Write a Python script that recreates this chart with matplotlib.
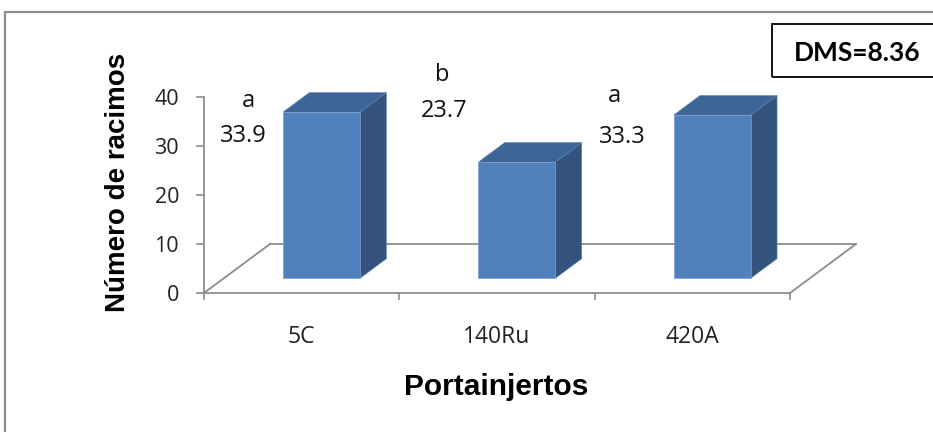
import matplotlib
matplotlib.use("Agg")
import matplotlib.pyplot as plt
from matplotlib.patches import Polygon, Rectangle

# datos
portainjertos = ["5C", "140Ru", "420A"]
racimos = [33.9, 23.7, 33.3]
letras = ["a", "b", "a"]
dms = 8.36

# posiciones de las etiquetas (desplazamiento x por categoria, altura y)
lab_dx_letra = [-0.27, -0.28, -0.40]
lab_y_letra = [39.2, 44.5, 40.2]
lab_dx_valor = [-0.30, -0.27, -0.36]
lab_y_valor = [32.0, 37.1, 31.8]

W, H = 933, 432
fig = plt.figure(figsize=(W / 100, H / 100), dpi=100)
fig.patch.set_facecolor("white")

# marco del grafico
fig.add_artist(Rectangle((5 / W, -0.1), 1.2, (H - 12) / H + 0.1, transform=fig.transFigure,
                         fill=False, edgecolor="#8c8c8c", lw=1.6))

ax = fig.add_axes([204 / W, (H - 293) / H, 586 / W, 196 / H])
ax.set_xlim(-0.5, 2.5)
ax.set_ylim(0, 40)
ax.patch.set_alpha(0)

gris = "#8c8c8c"
for s in ["top", "right"]:
    ax.spines[s].set_visible(False)
ax.spines["left"].set_color(gris)
ax.spines["bottom"].set_color(gris)
ax.spines["left"].set_linewidth(1.3)
ax.spines["bottom"].set_linewidth(1.3)

# profundidad del piso en unidades de datos
prof_x, prof_y = 0.338, 10.0
f0, f1 = 0.3, 0.7
ancho = 0.394

# piso
piso = dict(color=gris, lw=1.3, clip_on=False, zorder=1)
ax.plot([-0.5, -0.5 + prof_x], [0, prof_y], **piso)
ax.plot([-0.5 + prof_x, 2.5 + prof_x], [prof_y, prof_y], **piso)
ax.plot([2.5, 2.5 + prof_x], [0, prof_y], **piso)

c_frente = "#4f81bd"
c_lado = "#34547f"
c_tope = "#3d6595"
bx, by = (f1 - f0) * prof_x, (f1 - f0) * prof_y
for i, v in enumerate(racimos):
    x0 = i - ancho / 2 + f0 * prof_x
    y0 = f0 * prof_y
    lado = [(x0 + ancho, y0), (x0 + ancho + bx, y0 + by),
            (x0 + ancho + bx, y0 + by + v), (x0 + ancho, y0 + v)]
    tope = [(x0, y0 + v), (x0 + ancho, y0 + v),
            (x0 + ancho + bx, y0 + v + by), (x0 + bx, y0 + v + by)]
    ax.add_patch(Polygon(lado, closed=True, facecolor=c_lado, edgecolor="#5a7fb0",
                         lw=0.4, clip_on=False, zorder=3))
    ax.add_patch(Polygon(tope, closed=True, facecolor=c_tope, edgecolor="#5a7fb0",
                         lw=0.4, clip_on=False, zorder=3))
    ax.add_patch(Rectangle((x0, y0), ancho, v, facecolor=c_frente, edgecolor="#7a9ccc",
                           lw=0.5, clip_on=False, zorder=4))

    ax.text(i + lab_dx_letra[i], lab_y_letra[i], letras[i], ha="center", va="center",
            fontsize=17, family="Open Sans", color="#111111", clip_on=False)
    ax.text(i + lab_dx_valor[i], lab_y_valor[i], f"{v:.1f}", ha="center", va="center",
            fontsize=17, family="Open Sans", color="#111111", clip_on=False)

# ejes
ax.set_yticks([0, 10, 20, 30, 40])
ax.tick_params(axis="y", direction="out", length=6, width=1.2, color=gris, pad=12,
               labelsize=15.5, labelcolor="#222222")
ax.set_xticks(range(len(portainjertos)))
ax.set_xticklabels(portainjertos)
ax.set_xticks([-0.5, 0.5, 1.5, 2.5], minor=True)
ax.tick_params(axis="x", which="major", length=0, pad=23, labelsize=16.5, labelcolor="#222222")
ax.tick_params(axis="x", which="minor", direction="out", length=5, width=1.2, color=gris)
for t in ax.get_xticklabels() + ax.get_yticklabels():
    t.set_family("Open Sans")

fig.text(118 / W, 1 - 182 / H, "Número de racimos", rotation=90, ha="center", va="center",
         fontsize=20, fontweight="bold", family="Liberation Sans")
fig.text(496 / W, 1 - 387 / H, "Portainjertos", ha="center", va="center",
         fontsize=21.5, fontweight="bold", family="Liberation Sans")

# recuadro DMS
fig.add_artist(Rectangle((772 / W, 1 - 77 / H), 0.3, 53 / H, transform=fig.transFigure,
                         fill=False, edgecolor="black", lw=1.3))
fig.text(857 / W, 1 - 53 / H, f"DMS={dms}", ha="center", va="center",
         fontsize=19, fontweight="bold", family="Lato")

fig.savefig("out.png", dpi=100)
